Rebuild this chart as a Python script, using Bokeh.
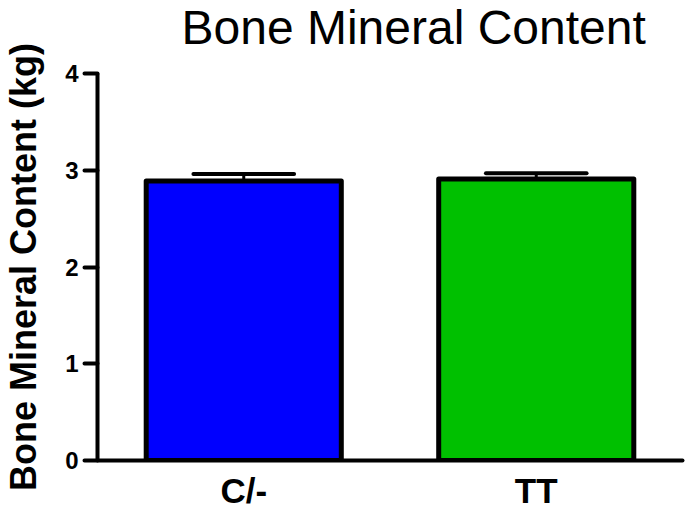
import numpy as np
from bokeh.plotting import figure
from bokeh.models import FixedTicker, Title
from bokeh.embed import file_html
from bokeh.resources import INLINE

# ---- data ----
groups = ["C/-", "TT"]
means = [2.89, 2.91]
sem = [0.07, 0.06]
colors = ["#0000FF", "#00C000"]
y_ticks = [0, 1, 2, 3, 4]
title_text = "Bone Mineral Content"
y_label = "Bone Mineral Content (kg)"

FONT = "Liberation Sans"

xs = np.arange(1, len(groups) + 1)
m = np.array(means)
s = np.array(sem)
tops = m + s

p = figure(width=685, height=514,
           x_range=(0.5, len(groups) + 0.5), y_range=(0, 4),
           output_backend="svg", toolbar_location=None)
p.min_border_top = 73
p.min_border_left = 0
p.min_border_right = 3
p.min_border_bottom = 54
p.outline_line_color = None
p.xgrid.visible = False
p.ygrid.visible = False
p.background_fill_color = "white"
p.border_fill_color = "white"

# spacer between title and frame, then the title itself (stacked outward)
p.add_layout(Title(text=" ", text_font=FONT, text_font_size="14px",
                   standoff=0), "above")
p.add_layout(Title(text=title_text, text_font=FONT, text_font_size="48px",
                   text_font_style="normal", text_color="black",
                   align="left", offset=84, vertical_align="top",
                   standoff=0), "above")

# bars
p.vbar(x=xs, top=means, bottom=0, width=0.667, fill_color=colors,
       line_color="black", line_width=5, line_join="round")

# error bars (mean + SEM)
p.segment(x0=xs, y0=m, x1=xs, y1=tops, line_color="black", line_width=3)
p.segment(x0=xs - 0.172, y0=tops, x1=xs + 0.172, y1=tops,
          line_color="black", line_width=4, line_cap="round")

# y axis
ya = p.yaxis[0]
ya.ticker = FixedTicker(ticks=y_ticks)
ya.axis_line_width = 4
ya.axis_line_color = "black"
ya.major_tick_line_width = 4
ya.major_tick_line_cap = "round"
ya.major_tick_out = 13
ya.major_tick_in = 0
ya.minor_tick_out = 0
ya.minor_tick_in = 0
ya.major_label_text_font = FONT
ya.major_label_text_font_size = "24px"
ya.major_label_text_font_style = "bold"
ya.major_label_text_color = "black"
ya.major_label_standoff = 6
ya.axis_label = y_label
ya.axis_label_text_font = FONT
ya.axis_label_text_font_size = "36px"
ya.axis_label_text_font_style = "bold"
ya.axis_label_text_color = "black"
ya.axis_label_standoff = 18

# x axis
xa = p.xaxis[0]
xa.ticker = FixedTicker(ticks=list(xs))
xa.major_label_overrides = {int(x): g for x, g in zip(xs, groups)}
xa.axis_line_width = 4
xa.axis_line_color = "black"
xa.axis_line_cap = "round"
xa.major_tick_out = 0
xa.major_tick_in = 0
xa.minor_tick_out = 0
xa.minor_tick_in = 0
xa.major_label_text_font = FONT
xa.major_label_text_font_size = "35px"
xa.major_label_text_font_style = "bold"
xa.major_label_text_color = "black"
xa.major_label_standoff = 10

open("out.html", "w").write(file_html(p, INLINE))
